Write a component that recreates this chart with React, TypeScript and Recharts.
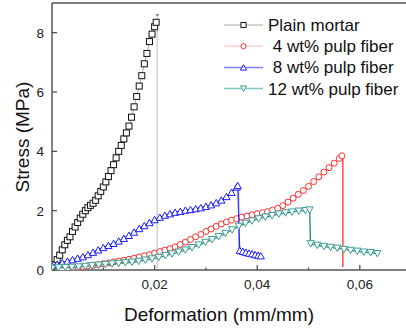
import React from 'react';
import { ScatterChart, Scatter, XAxis, YAxis, ReferenceLine, Legend } from 'recharts';

// ---- data (strain mm/mm, stress MPa) ----
const plainMortar = [
  { x: 0.0005, y: 0.18 }, { x: 0.001, y: 0.35 }, { x: 0.0015, y: 0.5 }, { x: 0.002, y: 0.68 },
  { x: 0.0025, y: 0.85 }, { x: 0.003, y: 1.0 }, { x: 0.0035, y: 1.12 }, { x: 0.004, y: 1.3 },
  { x: 0.0045, y: 1.45 }, { x: 0.005, y: 1.6 }, { x: 0.0055, y: 1.75 }, { x: 0.006, y: 1.88 },
  { x: 0.0065, y: 2.0 }, { x: 0.007, y: 2.1 }, { x: 0.0075, y: 2.18 }, { x: 0.008, y: 2.25 },
  { x: 0.0085, y: 2.35 }, { x: 0.009, y: 2.5 }, { x: 0.0095, y: 2.65 }, { x: 0.01, y: 2.8 },
  { x: 0.0105, y: 2.97 }, { x: 0.011, y: 3.15 }, { x: 0.0115, y: 3.35 }, { x: 0.012, y: 3.55 },
  { x: 0.0125, y: 3.78 }, { x: 0.013, y: 4.0 }, { x: 0.0135, y: 4.2 }, { x: 0.014, y: 4.42 },
  { x: 0.0145, y: 4.62 }, { x: 0.015, y: 4.85 }, { x: 0.0155, y: 5.15 }, { x: 0.016, y: 5.5 },
  { x: 0.0165, y: 5.85 }, { x: 0.017, y: 6.2 }, { x: 0.0175, y: 6.55 }, { x: 0.018, y: 6.95 },
  { x: 0.0185, y: 7.3 }, { x: 0.019, y: 7.7 }, { x: 0.0195, y: 7.95 }, { x: 0.02, y: 8.2 },
  { x: 0.0203, y: 8.35 },
];

const fiber4 = [
  { x: 0.001, y: 0.02 }, { x: 0.002, y: 0.04 }, { x: 0.003, y: 0.06 }, { x: 0.004, y: 0.08 },
  { x: 0.005, y: 0.1 }, { x: 0.006, y: 0.12 }, { x: 0.007, y: 0.14 }, { x: 0.008, y: 0.16 },
  { x: 0.009, y: 0.18 }, { x: 0.01, y: 0.21 }, { x: 0.011, y: 0.24 }, { x: 0.012, y: 0.27 },
  { x: 0.013, y: 0.3 }, { x: 0.014, y: 0.33 }, { x: 0.015, y: 0.36 }, { x: 0.016, y: 0.4 },
  { x: 0.017, y: 0.44 }, { x: 0.018, y: 0.48 }, { x: 0.019, y: 0.52 }, { x: 0.02, y: 0.57 },
  { x: 0.021, y: 0.62 }, { x: 0.022, y: 0.67 }, { x: 0.023, y: 0.72 }, { x: 0.024, y: 0.78 },
  { x: 0.025, y: 0.86 }, { x: 0.026, y: 0.94 }, { x: 0.027, y: 1.03 }, { x: 0.028, y: 1.12 },
  { x: 0.029, y: 1.2 }, { x: 0.03, y: 1.3 }, { x: 0.031, y: 1.38 }, { x: 0.032, y: 1.47 },
  { x: 0.033, y: 1.55 }, { x: 0.034, y: 1.62 }, { x: 0.035, y: 1.68 }, { x: 0.036, y: 1.73 },
  { x: 0.037, y: 1.78 }, { x: 0.038, y: 1.82 }, { x: 0.039, y: 1.86 }, { x: 0.04, y: 1.9 },
  { x: 0.041, y: 1.93 }, { x: 0.042, y: 1.97 }, { x: 0.043, y: 2.02 }, { x: 0.044, y: 2.08 },
  { x: 0.045, y: 2.17 }, { x: 0.046, y: 2.29 }, { x: 0.047, y: 2.42 }, { x: 0.048, y: 2.55 },
  { x: 0.049, y: 2.68 }, { x: 0.05, y: 2.82 }, { x: 0.051, y: 2.98 }, { x: 0.052, y: 3.14 },
  { x: 0.053, y: 3.3 }, { x: 0.054, y: 3.45 }, { x: 0.055, y: 3.6 }, { x: 0.056, y: 3.76 },
  { x: 0.0565, y: 3.85 },
];

const fiber8 = [
  { x: 0.0, y: 0.15 }, { x: 0.001, y: 0.2 }, { x: 0.002, y: 0.25 }, { x: 0.003, y: 0.3 },
  { x: 0.004, y: 0.35 }, { x: 0.005, y: 0.4 }, { x: 0.006, y: 0.45 }, { x: 0.007, y: 0.52 },
  { x: 0.008, y: 0.6 }, { x: 0.009, y: 0.68 }, { x: 0.01, y: 0.76 }, { x: 0.011, y: 0.83 },
  { x: 0.012, y: 0.9 }, { x: 0.013, y: 0.98 }, { x: 0.014, y: 1.07 }, { x: 0.015, y: 1.17 },
  { x: 0.016, y: 1.28 }, { x: 0.017, y: 1.4 }, { x: 0.018, y: 1.5 }, { x: 0.019, y: 1.6 },
  { x: 0.02, y: 1.7 }, { x: 0.021, y: 1.78 }, { x: 0.022, y: 1.85 }, { x: 0.023, y: 1.9 },
  { x: 0.024, y: 1.95 }, { x: 0.025, y: 1.98 }, { x: 0.026, y: 2.02 }, { x: 0.027, y: 2.04 },
  { x: 0.028, y: 2.07 }, { x: 0.029, y: 2.1 }, { x: 0.03, y: 2.15 }, { x: 0.031, y: 2.2 },
  { x: 0.032, y: 2.27 }, { x: 0.033, y: 2.36 }, { x: 0.034, y: 2.48 }, { x: 0.035, y: 2.62 },
  { x: 0.036, y: 2.8 }, { x: 0.0362, y: 2.85 },
  { x: 0.0366, y: 0.66 }, { x: 0.0372, y: 0.63 }, { x: 0.0378, y: 0.6 }, { x: 0.0384, y: 0.57 },
  { x: 0.039, y: 0.55 }, { x: 0.0396, y: 0.52 }, { x: 0.0402, y: 0.5 }, { x: 0.0407, y: 0.48 },
];

const fiber12 = [
  { x: 0.0, y: 0.05 }, { x: 0.0013, y: 0.07 }, { x: 0.0026, y: 0.08 }, { x: 0.0039, y: 0.09 },
  { x: 0.0052, y: 0.1 }, { x: 0.0065, y: 0.12 }, { x: 0.0078, y: 0.14 }, { x: 0.0091, y: 0.16 },
  { x: 0.0104, y: 0.18 }, { x: 0.0117, y: 0.2 }, { x: 0.013, y: 0.22 }, { x: 0.0143, y: 0.24 },
  { x: 0.0156, y: 0.26 }, { x: 0.0169, y: 0.29 }, { x: 0.0182, y: 0.33 }, { x: 0.0195, y: 0.37 },
  { x: 0.0208, y: 0.42 }, { x: 0.0221, y: 0.48 }, { x: 0.0234, y: 0.54 }, { x: 0.0247, y: 0.6 },
  { x: 0.026, y: 0.67 }, { x: 0.0273, y: 0.75 }, { x: 0.0286, y: 0.84 }, { x: 0.0299, y: 0.93 },
  { x: 0.0312, y: 1.02 }, { x: 0.0325, y: 1.12 }, { x: 0.0338, y: 1.23 }, { x: 0.0351, y: 1.35 },
  { x: 0.0364, y: 1.47 }, { x: 0.0377, y: 1.57 }, { x: 0.039, y: 1.65 }, { x: 0.0403, y: 1.72 },
  { x: 0.0416, y: 1.78 }, { x: 0.0429, y: 1.83 }, { x: 0.0442, y: 1.88 }, { x: 0.0455, y: 1.92 },
  { x: 0.0468, y: 1.95 }, { x: 0.0481, y: 1.98 }, { x: 0.0494, y: 2.0 }, { x: 0.0502, y: 2.02 },
  { x: 0.0504, y: 0.88 }, { x: 0.0517, y: 0.83 }, { x: 0.053, y: 0.79 }, { x: 0.0543, y: 0.76 },
  { x: 0.0556, y: 0.73 }, { x: 0.0569, y: 0.69 }, { x: 0.0582, y: 0.66 }, { x: 0.0595, y: 0.63 },
  { x: 0.0608, y: 0.6 }, { x: 0.0621, y: 0.58 }, { x: 0.0634, y: 0.55 },
];

// failure drops (strain, stress from -> to)
const mortarDrop = [{ x: 0.0205, y: 8.6 }, { x: 0.0205, y: 0 }];
const fiber4Drop = [{ x: 0.0567, y: 3.85 }, { x: 0.0567, y: 0.1 }];
const fiber8Drop = [{ x: 0.0364, y: 2.86 }, { x: 0.0364, y: 0.7 }];
const fiber12Drop = [{ x: 0.0503, y: 2.02 }, { x: 0.0503, y: 0.9 }];

const seriesNames = ['Plain mortar', ' 4 wt% pulp fiber', ' 8 wt% pulp fiber', '12 wt% pulp fiber'];
const xTicks = [0.01, 0.02, 0.03, 0.04, 0.05, 0.06];
const xLabeled = [0.02, 0.04, 0.06];
const yTicks = [0, 2, 4, 6, 8];

const FONT = '"Liberation Sans", Arial, sans-serif';

const styles = [
  { marker: 'square', stroke: '#111', line: '#b5b5b5', legendLine: '#c4c4c4', drop: '#c8c8c8' },
  { marker: 'circle', stroke: '#ff2d2d', line: '#ff8a8a', legendLine: '#ffd0d0', drop: '#ff1a1a' },
  { marker: 'up', stroke: '#1e1eff', line: '#2a2aff', legendLine: '#8080ff', drop: '#9a9aff' },
  { marker: 'down', stroke: '#3c9e96', line: '#2a8a82', legendLine: '#80c8c0', drop: '#a8e0d8' },
];

function Marker({ kind, cx, cy, stroke, s = 1 }: any) {
  if (cx == null || cy == null) return null;
  if (kind === 'square') {
    const h = 3 * s;
    return <rect x={cx - h} y={cy - h} width={2 * h} height={2 * h} fill="#fff" stroke={stroke} strokeWidth={1} />;
  }
  if (kind === 'circle') {
    return <circle cx={cx} cy={cy} r={3 * s} fill="#fff" stroke={stroke} strokeWidth={1} />;
  }
  if (kind === 'up') {
    const w = 3.6 * s, h = 3.2 * s;
    return <polygon points={`${cx},${cy - h} ${cx + w},${cy + h} ${cx - w},${cy + h}`} fill="#fff" stroke={stroke} strokeWidth={1} />;
  }
  const w = 3.6 * s, h = 3.2 * s;
  return <polygon points={`${cx - w},${cy - h} ${cx + w},${cy - h} ${cx},${cy + h}`} fill="#fff" stroke={stroke} strokeWidth={1} />;
}

const XTick = (props: any) => {
  const { x, y, payload } = props;
  const v = payload.value;
  const major = xLabeled.some((t) => Math.abs(t - v) < 1e-9);
  return (
    <g>
      <line x1={x} x2={x} y1={y} y2={y - (major ? 5 : 2.5)} stroke="#444" strokeWidth={1.2} />
      {major && (
        <text x={x} y={y + 19} textAnchor="middle" fontSize={13.5} fontFamily={FONT} fill="#222">
          {v.toFixed(2).replace('.', ',')}
        </text>
      )}
    </g>
  );
};

const YTick = (props: any) => {
  const { x, y, payload } = props;
  return (
    <g>
      <line x1={x} x2={x + 5} y1={y} y2={y} stroke="#444" strokeWidth={1.2} />
      <text x={x - 8} y={y + 5} textAnchor="end" fontSize={13.5} fontFamily={FONT} fill="#222">
        {payload.value}
      </text>
    </g>
  );
};

const LegendContent = () => (
  <svg width={190} height={90} style={{ display: 'block' }}>
    {seriesNames.map((name, i) => {
      const st = styles[i];
      const cy = 12 + i * 21.2;
      return (
        <g key={name}>
          <line x1={4} x2={43} y1={cy} y2={cy} stroke={st.legendLine} strokeWidth={1.5} />
          <Marker kind={st.marker} cx={23.5} cy={cy} stroke={st.stroke} s={0.85} />
          <text x={48} y={cy + 6} fontSize={17} fontFamily={FONT} fill="#111" style={{ whiteSpace: 'pre' }}>
            {name}
          </text>
        </g>
      );
    })}
  </svg>
);

export default function App() {
  const datasets = [plainMortar, fiber4, fiber8, fiber12];
  const drops = [mortarDrop, fiber4Drop, fiber8Drop, fiber12Drop];
  return (
    <div style={{ position: 'absolute', left: 0, top: 0, width: 406, height: 331, overflow: 'hidden', background: '#fff' }}>
      <ScatterChart width={406} height={331} margin={{ top: 3, right: 0, bottom: 0, left: 0 }}>
        <XAxis
          type="number"
          dataKey="x"
          domain={[0, 0.069]}
          ticks={xTicks}
          allowDataOverflow
          height={61}
          tickSize={0}
          tickMargin={0}
          tick={<XTick />}
          axisLine={{ stroke: '#555', strokeWidth: 1.5 }}
          label={{
            content: (p: any) => (
              <text x={219} y={321} textAnchor="middle" fontSize={19} fontFamily={FONT} fill="#111">
                Deformation (mm/mm)
              </text>
            ),
          }}
        />
        <YAxis
          type="number"
          dataKey="y"
          domain={[0, 9]}
          ticks={yTicks}
          allowDataOverflow
          width={52}
          tickSize={0}
          tickMargin={0}
          tick={<YTick />}
          axisLine={{ stroke: '#555', strokeWidth: 1.5 }}
          label={{
            content: (p: any) => (
              <text
                x={29}
                y={137}
                textAnchor="middle"
                fontSize={19}
                fontFamily={FONT}
                fill="#111"
                transform="rotate(-90 29 137)"
              >
                Stress (MPa)
              </text>
            ),
          }}
        />
        <ReferenceLine y={9} stroke="#555" strokeWidth={1.5} ifOverflow="visible" />
        {drops.map((d, i) => (
          <ReferenceLine
            key={'drop' + i}
            segment={d}
            stroke={styles[i].drop}
            strokeWidth={1.2}
            ifOverflow="visible"
          />
        ))}
        <ReferenceLine
          segment={[{ x: 0.0203, y: 8.6 }, { x: 0.0208, y: 8.6 }]}
          stroke="#333"
          strokeWidth={1}
        />
        {datasets.map((d, i) => (
          <Scatter
            key={seriesNames[i]}
            name={seriesNames[i]}
            data={d}
            isAnimationActive={false}
            line={{ stroke: styles[i].line, strokeWidth: 1.2 }}
            lineType="joint"
            shape={(p: any) => <Marker kind={styles[i].marker} cx={p.cx} cy={p.cy} stroke={styles[i].stroke} />}
          />
        ))}
        <Legend
          layout="horizontal"
          verticalAlign="middle"
          align="center"
          wrapperStyle={{ left: 220, top: 13, width: 190, height: 90 }}
          content={<LegendContent />}
        />
      </ScatterChart>
    </div>
  );
}
